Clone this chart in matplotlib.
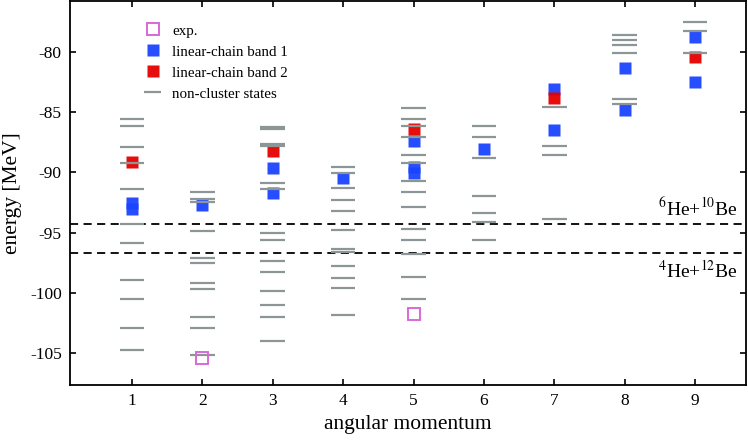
import numpy as np
import matplotlib
matplotlib.use("Agg")
import matplotlib.pyplot as plt

plt.rcParams['font.family'] = ['Liberation Serif', 'DejaVu Serif']
plt.rcParams['axes.unicode_minus'] = False
plt.rcParams['mathtext.fontset'] = 'stix'

# non-cluster states (grey levels), energy in MeV for each angular momentum
levels = {
    1: [-85.57, -86.13, -87.86, -89.25, -91.42, -94.32, -95.84, -98.96,
        -100.53, -102.96, -104.78],
    2: [-91.65, -92.23, -92.50, -94.90, -97.11, -97.52, -99.21, -99.68,
        -101.99, -102.93, -105.14],
    3: [-86.27, -86.43, -87.64, -87.84, -90.87, -91.42, -95.04, -95.65,
        -97.38, -98.27, -99.84, -100.97, -102.02, -103.98],
    4: [-89.58, -90.02, -91.34, -92.31, -93.25, -94.79, -96.39, -96.60,
        -97.77, -98.77, -99.59, -101.88],
    5: [-84.66, -85.60, -86.18, -87.09, -88.53, -89.19, -90.74, -91.61,
        -92.89, -94.68, -95.65, -96.75, -98.65, -100.53],
    6: [-86.13, -87.09, -88.83, -91.98, -93.41, -94.13, -95.65],
    7: [-84.61, -87.81, -88.58, -93.90],
    8: [-78.57, -79.03, -79.45, -80.11, -83.95, -84.30],
    9: [-77.49, -78.26, -80.11],
}

band1_J = [1, 1, 2, 3, 3, 4, 5, 5, 5, 6, 7, 7, 8, 8, 9, 9]
band1_E = [-92.58, -93.03, -92.72, -89.63, -91.70, -90.51, -87.42, -89.56,
           -90.02, -88.08, -83.09, -86.46, -81.35, -84.83, -78.73, -82.48]

band2_J = [1, 3, 5, 7, 9]
band2_E = [-89.16, -88.20, -86.40, -83.84, -80.44]

exp_J = [2, 5]
exp_E = [-105.38, -101.74]

thresholds = [-94.26, -96.70]
threshold_labels = [r'$^{6}$He+$^{10}$Be', r'$^{4}$He+$^{12}$Be']

fig = plt.figure(figsize=(7.48, 4.48), dpi=100)
ax = fig.add_axes([0.0936, 0.1406, 0.9034, 0.8572])

grey = '#8c9696'
hw = 0.175
first = True
for J, es in levels.items():
    ax.hlines(es, J - hw, J + hw, colors=grey, lw=1.6, zorder=3,
              label='non-cluster states' if first else None)
    first = False

ax.plot(exp_J, exp_E, 's', ms=8, mfc='none', mec='#d868d8', mew=1.4,
        ls='none', label='exp.', zorder=4)
ax.plot(band1_J, band1_E, 's', ms=8, color='#1a44ff', mec='none',
        ls='none', label='linear-chain band 1', zorder=2, alpha=0.95)
ax.plot(band2_J, band2_E, 's', ms=8, color='#e50000', mec='none',
        ls='none', label='linear-chain band 2', zorder=2, alpha=0.95)

for e in thresholds:
    ax.axhline(e, color='black', lw=1.3, ls=(0, (4.5, 3)), zorder=1)

ax.text(9.6, thresholds[0] + 0.35, threshold_labels[0], ha='right',
        va='bottom', fontsize=14)
ax.text(9.6, thresholds[1] - 0.55, threshold_labels[1], ha='right',
        va='top', fontsize=14)

ax.set_xlim(0.12, 9.72)
ax.set_ylim(-107.65, -75.78)
ax.set_xticks(range(1, 10))
ax.set_yticks([-80, -85, -90, -95, -100, -105])
ax.tick_params(direction='in', top=True, right=True, length=4, width=1.2,
               labelsize=12.5, pad=6)
for s in ax.spines.values():
    s.set_linewidth(1.3)

ax.set_xlabel('angular momentum', fontsize=15.5)
ax.set_ylabel('energy [MeV]', fontsize=15.5, labelpad=6)

h, l = ax.get_legend_handles_labels()
order = [l.index('exp.'), l.index('linear-chain band 1'),
         l.index('linear-chain band 2'), l.index('non-cluster states')]
ax.legend([h[i] for i in order], [l[i] for i in order], loc='upper left',
          bbox_to_anchor=(0.09, 0.975), frameon=False, fontsize=10.8,
          handlelength=1.1, handletextpad=0.75, labelspacing=0.5)

fig.savefig('out.png', dpi=100)
